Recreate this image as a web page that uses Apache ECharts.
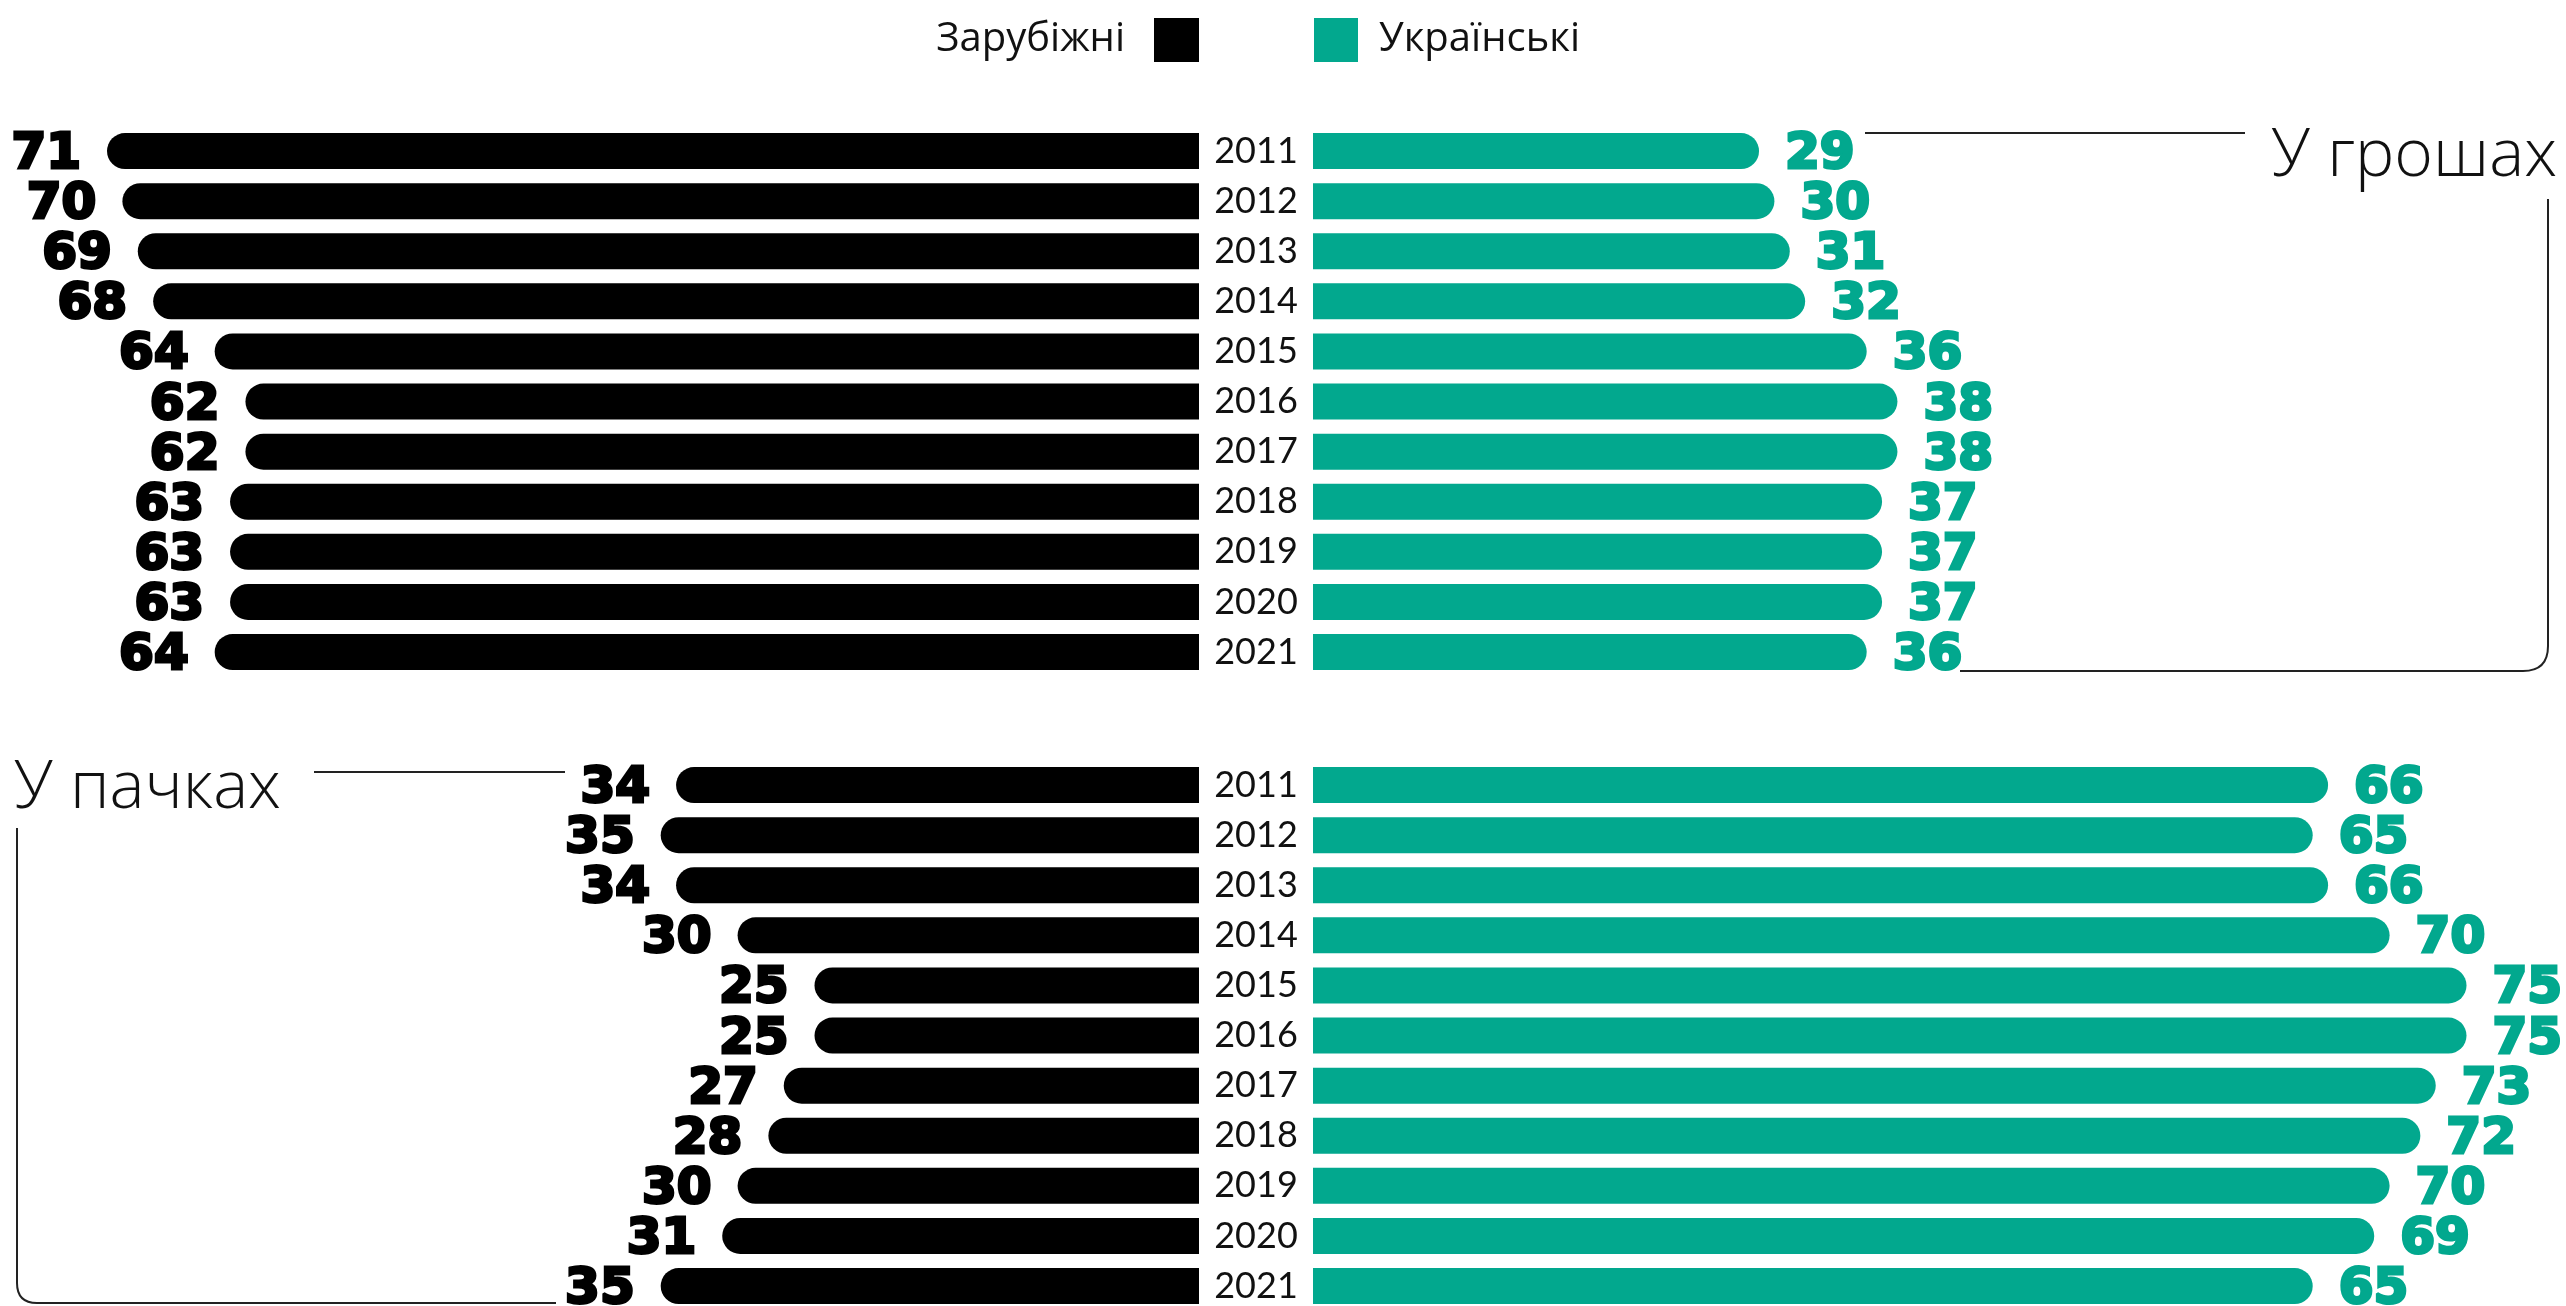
<!DOCTYPE html>
<html><head><meta charset="utf-8">
<script src="https://cdn.jsdelivr.net/npm/echarts@6/dist/echarts.min.js"></script>
<style>html,body{margin:0;padding:0;background:#fff}#c{width:2566px;height:1306px}</style>
</head><body><div id="c"></div>
<script>
const years = ['2011','2012','2013','2014','2015','2016','2017','2018','2019','2020','2021'];
const moneyForeign = [71,70,69,68,64,62,62,63,63,63,64];
const moneyUkr     = [29,30,31,32,36,38,38,37,37,37,36];
const packForeign  = [34,35,34,30,25,25,27,28,30,31,35];
const packUkr      = [66,65,66,70,75,75,73,72,70,69,65];
const seriesNames = ['Зарубіжні','Українські'];
const groupTitles = ['У грошах','У пачках'];

const BLACK = '#000000', TEAL = '#02a88e', INK = '#111111';
const PX = 15.38;             // pixels per unit
const ROWH = 50.1, H = ROWH * 11;
const TOPS = [126, 760];
const CL = 1199, CR = 1313;   // inner edges of the bars
const MAXL = 77, MAXR = 81;
const numFont = {fontFamily:'DejaVu Sans', fontWeight:'bold', fontSize:50, offset:[0,4]};

const grids = [], xAxes = [], yAxes = [], series = [];
const groups = [[moneyForeign, moneyUkr],[packForeign, packUkr]];
groups.forEach((g, gi) => {
  const top = TOPS[gi];
  grids.push({left: CL - MAXL*PX, width: MAXL*PX, top: top, height: H, outerBoundsMode:'none', containLabel:false});
  grids.push({left: CR, width: MAXR*PX, top: top, height: H, outerBoundsMode:'none', containLabel:false});
  const li = grids.length - 2, ri = grids.length - 1;
  xAxes.push({gridIndex: li, type:'value', min:0, max:MAXL, inverse:true, show:false});
  xAxes.push({gridIndex: ri, type:'value', min:0, max:MAXR, show:false});
  yAxes.push({gridIndex: li, type:'category', data: years, inverse:true, position:'right',
    axisLine:{show:false,onZero:false}, axisTick:{show:false}, splitLine:{show:false},
    axisLabel:{show:true, margin:57, align:'center', fontSize:36, fontFamily:'Lato', color:INK}});
  yAxes.push({gridIndex: ri, type:'category', data: years, inverse:true, show:false});
  series.push({type:'bar', name:seriesNames[0], xAxisIndex:li, yAxisIndex:li, data:g[0], barWidth:36,
    itemStyle:{color:BLACK, borderRadius:[18,0,0,18]},
    label:Object.assign({show:true, position:'left', distance:26, color:BLACK, textBorderColor:BLACK, textBorderWidth:3}, numFont)});
  series.push({type:'bar', name:seriesNames[1], xAxisIndex:ri, yAxisIndex:ri, data:g[1], barWidth:36,
    itemStyle:{color:TEAL, borderRadius:[0,18,18,0]},
    label:Object.assign({show:true, position:'right', distance:26, color:TEAL, textBorderColor:TEAL, textBorderWidth:3}, numFont)});
});

const lineStyle = {stroke:'#222', lineWidth:2, fill:null};
const titleStyle = {fontSize:66, fontFamily:'Open Sans', fontWeight:300, fill:INK, verticalAlign:'middle'};
const graphic = [
  {type:'text', x: 2557, y: 157, style:Object.assign({text:groupTitles[0], align:'right'}, titleStyle)},
  {type:'polyline', shape:{points:[[1865,133],[2245,133]]}, style:lineStyle},
  {type:'polyline', shape:{points:[[2548,199],[2548,646]]}, style:lineStyle},
  {type:'bezierCurve', shape:{x1:2548,y1:646,x2:2523,y2:671,cpx1:2548,cpy1:671}, style:lineStyle},
  {type:'polyline', shape:{points:[[2523,671],[1960,671]]}, style:lineStyle},
  {type:'text', x: 14, y: 789, style:Object.assign({text:groupTitles[1], align:'left'}, titleStyle)},
  {type:'polyline', shape:{points:[[314,772],[565,772]]}, style:lineStyle},
  {type:'polyline', shape:{points:[[17,828],[17,1283]]}, style:lineStyle},
  {type:'bezierCurve', shape:{x1:17,y1:1283,x2:37,y2:1303,cpx1:17,cpy1:1303}, style:lineStyle},
  {type:'polyline', shape:{points:[[37,1303],[556,1303]]}, style:lineStyle}
];

const legendText = {fontSize:40, fontFamily:'Open Sans', color:INK};
const chart = echarts.init(document.getElementById('c'), null, {renderer:'canvas'});
chart.setOption({
  animation:false,
  backgroundColor:'#fff',
  legend:[
    {data:[seriesNames[0]], right: 2566-1199-5, top:13, align:'right', icon:'rect', itemWidth:45, itemHeight:44,
     textStyle:Object.assign({padding:[0,24,0,0]}, legendText)},
    {data:[seriesNames[1]], left: 1309, top:13, align:'left', icon:'rect', itemWidth:44, itemHeight:44,
     textStyle:Object.assign({padding:[0,0,0,16]}, legendText)}
  ],
  grid:grids, xAxis:xAxes, yAxis:yAxes, series:series, graphic:graphic
});
</script></body></html>
